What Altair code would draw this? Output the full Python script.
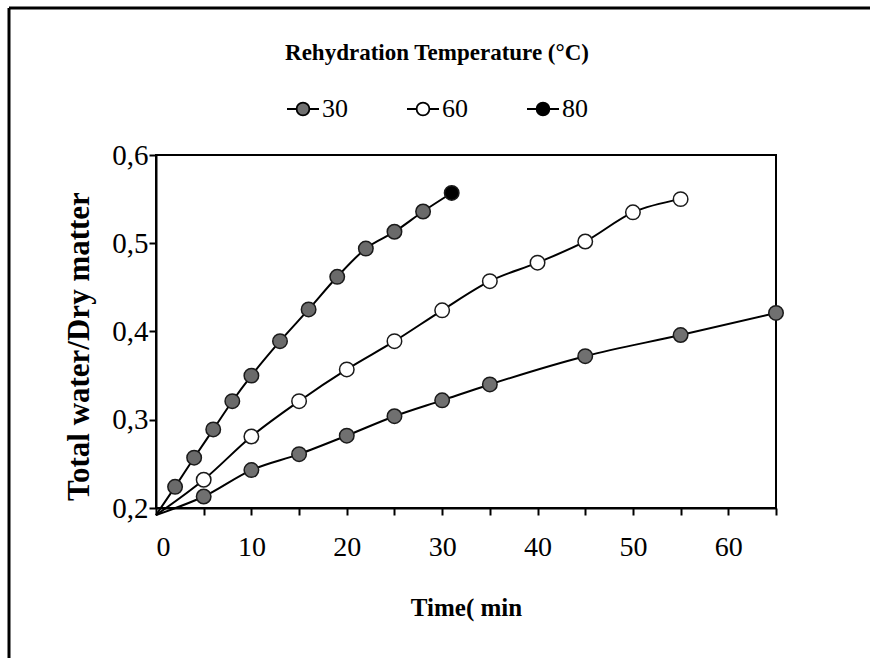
import altair as alt
import pandas as pd

# ---- data ----
series_names = ["30", "60", "80"]

time_30 = [0, 5, 10, 15, 20, 25, 30, 35, 45, 55, 65]
val_30 = [0.192, 0.213, 0.243, 0.261, 0.282, 0.304, 0.322, 0.340, 0.372, 0.396, 0.421]

time_60 = [0, 5, 10, 15, 20, 25, 30, 35, 40, 45, 50, 55]
val_60 = [0.192, 0.232, 0.281, 0.321, 0.357, 0.389, 0.424, 0.457, 0.478, 0.502, 0.535, 0.550]

time_80 = [0, 2, 4, 6, 8, 10, 13, 16, 19, 22, 25, 28, 31]
val_80 = [0.192, 0.224, 0.257, 0.289, 0.321, 0.350, 0.389, 0.425, 0.462, 0.494, 0.513, 0.536, 0.557]

x_ticks = [0, 5, 10, 15, 20, 25, 30, 35, 40, 45, 50, 55, 60, 65]
y_ticks = [0.2, 0.3, 0.4, 0.5, 0.6]

legend_fill = ["#707070", "#ffffff", "#000000"]
point_grey = "#6a6a6a"

rows = []
for name, ts, vs in [("30", time_30, val_30), ("60", time_60, val_60), ("80", time_80, val_80)]:
    n = len(ts)
    for i, (t, v) in enumerate(zip(ts, vs)):
        rows.append({"series": name, "t": t, "v": v, "last": i == n - 1})
df = pd.DataFrame(rows)

SERIF = "Liberation Serif"

x_enc = alt.X(
    "t:Q",
    scale=alt.Scale(domain=[0, 65], nice=False, zero=False),
    axis=alt.Axis(
        values=x_ticks,
        labelExpr="datum.value % 10 == 0 && datum.value < 65 ? datum.label : ''",
        title="Time( min",
        titleFont=SERIF, titleFontSize=25, titleFontWeight="bold",
        titlePadding=34,
        labelFont=SERIF, labelFontSize=28, labelPadding=18,
        tickSize=7, tickWidth=2, tickColor="black",
        domainColor="black", domainWidth=2,
        grid=False, labelColor="black", titleColor="black",
    ),
)
y_enc = alt.Y(
    "v:Q",
    scale=alt.Scale(domain=[0.2, 0.6], nice=False, zero=False),
    axis=alt.Axis(
        values=y_ticks,
        labelExpr="replace(format(datum.value, '.1f'), '.', ',')",
        title="Total water/Dry matter",
        titleFont=SERIF, titleFontSize=31, titleFontWeight="bold",
        titlePadding=16, titleY=191,
        labelFont=SERIF, labelFontSize=29, labelPadding=1,
        tickSize=7, tickWidth=2, tickColor="black",
        domainColor="black", domainWidth=2,
        grid=False, labelColor="black", titleColor="black",
    ),
)

lines = alt.Chart(df).mark_line(
    color="black", strokeWidth=2, interpolate="monotone", clip=False
).encode(x=x_enc, y=y_enc, detail="series:N", order="t:Q")

legend_path = "M-1,0L-0.4,0M0.4,0L1,0M0.4,0A0.4,0.4,0,1,1,-0.4,0A0.4,0.4,0,1,1,0.4,0Z"

points = alt.Chart(df).transform_filter("datum.t > 0").mark_point(
    filled=True, size=210, stroke="#1a1a1a", strokeWidth=1.5, opacity=1, shape="circle"
).encode(
    x="t:Q",
    y="v:Q",
    fill=alt.condition(
        "datum.series == '80' && !datum.last",
        alt.value(point_grey),
        alt.Fill(
            "series:N",
            scale=alt.Scale(domain=series_names, range=legend_fill),
            legend=alt.Legend(
                title="Rehydration Temperature (°C)",
                orient="none", legendX=129, legendY=-113,
                direction="horizontal",
                titleOrient="top", titleAnchor="middle",
                titleFont=SERIF, titleFontSize=23, titleFontWeight="bold",
                titleColor="black", titlePadding=27, titleLimit=600,
                labelFont=SERIF, labelFontSize=26, labelColor="black",
                labelOffset=2, columnPadding=55,
                symbolType=legend_path, symbolSize=1024,
                symbolStrokeColor="black", symbolStrokeWidth=1.8,
            ),
        ),
    ),
)

frame_data = alt.Data(values=[{"k": 1}])
frame_top = alt.Chart(frame_data).mark_rule(color="black", strokeWidth=3).encode(
    x=alt.value(-147), x2=alt.value(720), y=alt.value(-147)
)
frame_left = alt.Chart(frame_data).mark_rule(color="black", strokeWidth=3).encode(
    x=alt.value(-147), y=alt.value(-147), y2=alt.value(510)
)

chart = alt.layer(lines, points, frame_top, frame_left).properties(
    width=620, height=353,
    autosize=alt.AutoSizeParams(type="none"),
    padding={"left": 156, "top": 155, "right": 94, "bottom": 150},
    background="white",
).configure_view(stroke="black", strokeWidth=2)

chart.save("out.html", embed_options={"renderer": "svg", "actions": False})
